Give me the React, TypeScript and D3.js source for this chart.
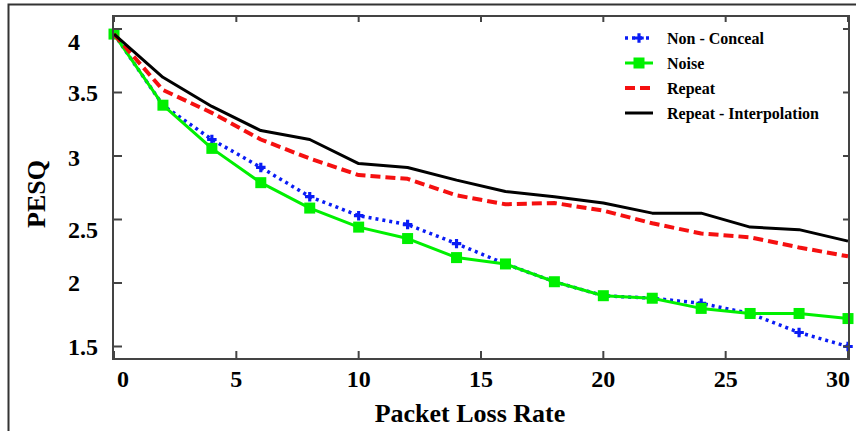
import React from 'react';
import * as d3 from 'd3';

const lossRates = [0, 2, 4, 6, 8, 10, 12, 14, 16, 18, 20, 22, 24, 26, 28, 30];
const nonConceal = [3.96, 3.4, 3.13, 2.91, 2.68, 2.53, 2.46, 2.31, 2.15, 2.01, 1.9, 1.88, 1.84, 1.76, 1.61, 1.5];
const noise = [3.96, 3.4, 3.06, 2.79, 2.59, 2.44, 2.35, 2.2, 2.15, 2.01, 1.9, 1.88, 1.8, 1.76, 1.76, 1.72];
const repeat = [3.96, 3.52, 3.34, 3.13, 2.98, 2.85, 2.82, 2.69, 2.62, 2.63, 2.57, 2.47, 2.39, 2.36, 2.28, 2.21];
const repeatInterp = [3.96, 3.62, 3.39, 3.2, 3.13, 2.94, 2.91, 2.81, 2.72, 2.68, 2.63, 2.55, 2.55, 2.44, 2.42, 2.33];

const xTicks = [0, 5, 10, 15, 20, 25, 30];
const yTicks = [1.5, 2, 2.5, 3, 3.5, 4];

const seriesNames = ['Non - Conceal', 'Noise', 'Repeat', 'Repeat - Interpolation'];

const FONT = '"Liberation Serif", "Times New Roman", serif';

export default function App() {
  const frame = { left: 113, right: 849, top: 16, bottom: 359 };
  const x = d3.scaleLinear().domain([0, 30]).range([114, 848]);
  const y = d3.scaleLinear().domain([1.5, 4]).range([346.5, 29]);

  const line = d3.line<number>()
    .x((_, i) => x(lossRates[i]))
    .y(d => y(d));

  const series = [
    { name: seriesNames[0], values: nonConceal, color: '#0a1cf5', width: 3.5, dash: '3,4', marker: 'cross' },
    { name: seriesNames[1], values: noise, color: '#00f000', width: 3, dash: null, marker: 'square' },
    { name: seriesNames[2], values: repeat, color: '#f51010', width: 4, dash: '10,5', marker: null },
    { name: seriesNames[3], values: repeatInterp, color: '#000000', width: 3, dash: null, marker: null },
  ];

  const crossPath = d3.symbol().type(d3.symbolCross).size(50)() as string;

  const marker = (kind: string | null, color: string, cx: number, cy: number, key: string) => {
    if (kind === 'square') {
      return <rect key={key} x={cx - 5.5} y={cy - 5.5} width={11} height={11} fill={color} />;
    }
    if (kind === 'cross') {
      return <path key={key} d={crossPath} transform={`translate(${cx},${cy})`} fill={color} />;
    }
    return null;
  };

  // label nudges seen in the original figure
  const yLabelShift: Record<string, number> = { '4': 13, '2.5': 10, '3': 2 };

  return (
    <div style={{ position: 'absolute', left: 0, top: 0 }}>
      <svg width={856} height={431} style={{ display: 'block', background: '#fff' }} fontFamily={FONT}>
        {/* outer figure frame */}
        <rect x={8.5} y={4.5} width={900} height={500} fill="none" stroke="#333" strokeWidth={2} />

        {/* series */}
        {series.map(s => (
          <g key={s.name}>
            <path d={line(s.values) || ''} fill="none" stroke={s.color} strokeWidth={s.width}
              strokeDasharray={s.dash || undefined} strokeLinejoin="round" />
            {s.marker && s.values.map((v, i) => marker(s.marker, s.color, x(lossRates[i]), y(v), `${s.name}-${i}`))}
          </g>
        ))}

        {/* plot frame */}
        <rect x={frame.left} y={frame.top} width={frame.right - frame.left} height={frame.bottom - frame.top}
          fill="none" stroke="#444" strokeWidth={2} />

        {/* x ticks */}
        {xTicks.map(t => (
          <g key={`x${t}`}>
            <line x1={x(t)} x2={x(t)} y1={frame.bottom} y2={frame.bottom - 8} stroke="#444" strokeWidth={2} />
            <line x1={x(t)} x2={x(t)} y1={frame.top} y2={frame.top + 6} stroke="#444" strokeWidth={2} />
            <text x={t === 0 ? 117 : t === 30 ? 850 : x(t)} y={387}
              textAnchor={t === 0 ? 'start' : t === 30 ? 'end' : 'middle'}
              fontSize={24} fontWeight="bold" fill="#000">{t}</text>
          </g>
        ))}

        {/* y ticks */}
        {yTicks.map(t => (
          <g key={`y${t}`}>
            <line x1={frame.left} x2={frame.left + 9} y1={y(t)} y2={y(t)} stroke="#444" strokeWidth={2} />
            <line x1={frame.right} x2={frame.right - 6} y1={y(t)} y2={y(t)} stroke="#444" strokeWidth={2} />
            <text x={68} y={y(t) + (yLabelShift[String(t)] || 0)} dy="0.35em" textAnchor="start"
              fontSize={24} fontWeight="bold" fill="#000">{t}</text>
          </g>
        ))}

        {/* axis titles */}
        <text x={470} y={422} textAnchor="middle" fontSize={26} fontWeight="bold" fill="#000">Packet Loss Rate</text>
        <text transform="translate(45,194) rotate(-90)" textAnchor="middle" fontSize={26} fontWeight="bold" fill="#000">PESQ</text>

        {/* legend */}
        {series.map((s, i) => {
          const ly = 38 + i * 25;
          return (
            <g key={`lg${i}`}>
              <line x1={625} x2={653} y1={ly} y2={ly} stroke={s.color} strokeWidth={s.width}
                strokeDasharray={s.dash || undefined} />
              {marker(s.marker, s.color, 639, ly, `lgm${i}`)}
              <text x={667} y={ly} dy="0.35em" fontSize={16} fontWeight="bold" fill="#000">{s.name}</text>
            </g>
          );
        })}
      </svg>
    </div>
  );
}
